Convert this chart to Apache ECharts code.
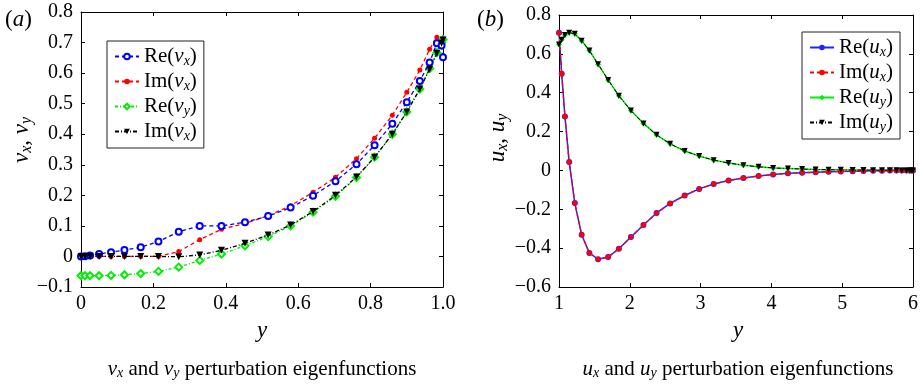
<!DOCTYPE html>
<html><head><meta charset="utf-8">
<script src="https://cdn.jsdelivr.net/npm/echarts@6/dist/echarts.min.js"></script>
<style>html,body{margin:0;padding:0;background:#fff;font-family:'Liberation Serif',serif}#c{width:921px;height:386px}</style>
</head><body><div id="c"></div>
<script>
// ---- Panel (a) data ----
const xA = [0, 0.011, 0.025, 0.05, 0.083, 0.12, 0.165, 0.214, 0.27, 0.328, 0.388, 0.453, 0.517, 0.579, 0.641, 0.703, 0.761, 0.811, 0.86, 0.9, 0.936, 0.963, 0.983, 0.996, 1.0];
const reVx = [0, 0.001, 0.003, 0.008, 0.014, 0.021, 0.03, 0.049, 0.081, 0.1, 0.1, 0.112, 0.132, 0.16, 0.199, 0.246, 0.302, 0.364, 0.434, 0.505, 0.574, 0.635, 0.698, 0.69, 0.652];
const imVx = [0, 0, 0, 0, 0, 0, 0, 0, 0.016, 0.055, 0.089, 0.108, 0.133, 0.166, 0.21, 0.259, 0.32, 0.387, 0.462, 0.537, 0.61, 0.678, 0.717, 0.7, 0.697];
const reVy = [-0.063, -0.063, -0.063, -0.063, -0.062, -0.06, -0.056, -0.049, -0.035, -0.013, 0.008, 0.035, 0.065, 0.1, 0.145, 0.197, 0.258, 0.325, 0.4, 0.473, 0.548, 0.615, 0.667, 0.7, 0.71];
const imVx2 = [0, 0, 0, 0, 0, 0, 0, 0, -0.001, 0.005, 0.02, 0.043, 0.07, 0.103, 0.147, 0.2, 0.26, 0.325, 0.4, 0.473, 0.548, 0.613, 0.665, 0.698, 0.708];
const xTicksA = ['0', '0.2', '0.4', '0.6', '0.8', '1.0'];
const yTicksA = ['\u22120.1', '0', '0.1', '0.2', '0.3', '0.4', '0.5', '0.6', '0.7', '0.8'];

// ---- Panel (b) data ----
const xB = [1.0, 1.038, 1.084, 1.144, 1.223, 1.32, 1.429, 1.552, 1.694, 1.846, 2.016, 2.193, 2.378, 2.57, 2.775, 2.98, 3.185, 3.395, 3.605, 3.819, 4.024, 4.234, 4.434, 4.625, 4.807, 4.98, 5.147, 5.3, 5.436, 5.562, 5.674, 5.767, 5.842, 5.907, 5.953, 5.981, 6.0];
const reUx = [0.708, 0.497, 0.278, 0.043, -0.168, -0.331, -0.425, -0.457, -0.446, -0.403, -0.343, -0.281, -0.219, -0.17, -0.129, -0.095, -0.07, -0.052, -0.039, -0.029, -0.021, -0.015, -0.012, -0.009, -0.007, -0.005, -0.004, -0.003, -0.002, -0.002, -0.001, -0.001, -0.001, 0, 0, 0, 0];
const imUx = [0.708, 0.497, 0.278, 0.043, -0.168, -0.331, -0.425, -0.457, -0.446, -0.403, -0.343, -0.281, -0.219, -0.17, -0.129, -0.095, -0.07, -0.052, -0.039, -0.029, -0.021, -0.015, -0.012, -0.009, -0.007, -0.005, -0.004, -0.003, -0.002, -0.002, -0.001, -0.001, -0.001, 0, 0, 0, 0];
const reUy = [0.648, 0.673, 0.697, 0.709, 0.703, 0.668, 0.617, 0.547, 0.466, 0.384, 0.308, 0.242, 0.183, 0.137, 0.1, 0.074, 0.053, 0.038, 0.027, 0.019, 0.013, 0.01, 0.007, 0.005, 0.004, 0.003, 0.002, 0.002, 0.001, 0.001, 0.001, 0.001, 0, 0, 0, 0, 0];
const imUy = [0.648, 0.673, 0.697, 0.709, 0.703, 0.668, 0.617, 0.547, 0.466, 0.384, 0.308, 0.242, 0.183, 0.137, 0.1, 0.074, 0.053, 0.038, 0.027, 0.019, 0.013, 0.01, 0.007, 0.005, 0.004, 0.003, 0.002, 0.002, 0.001, 0.001, 0.001, 0.001, 0, 0, 0, 0, 0];
const xTicksB = ['1', '2', '3', '4', '5', '6'];
const yTicksB = ['\u22120.6', '\u22120.4', '\u22120.2', '0', '0.2', '0.4', '0.6', '0.8'];

const FONT = "'Liberation Serif', 'Times New Roman', serif";
function rich(sz) {
  return {
    n: {fontFamily: FONT, fontSize: sz, color: '#000'},
    i: {fontFamily: FONT, fontStyle: 'italic', fontSize: sz, color: '#000'},
    s: {fontFamily: FONT, fontStyle: 'italic', fontSize: Math.round(sz * 0.68), color: '#000', padding: [Math.round(sz * 0.45), 0, 0, 0]}
  };
}
function fmtName(name) {
  const m = name.trim().match(/^(Re|Im)\((\w)(\w)\)$/);
  return '{n|' + m[1] + '(}{i|' + m[2] + '}{s|' + m[3] + '}{n|)}';
}
const pair = (xs, ys) => xs.map((x, k) => [x, ys[k]]);

const tickRich = {t: {fontFamily: FONT, fontSize: 20, fontStyle: 'normal', color: '#000'}};
function mkX(idx, min, max, interval, labels, top) {
  return {
    type: 'value', gridIndex: idx, min, max, interval, position: top ? 'top' : 'bottom',
    axisLine: {show: true, onZero: false, lineStyle: {color: '#000', width: 1}},
    axisTick: {show: true, inside: true, length: 4, lineStyle: {color: '#000'}},
    axisLabel: top ? {show: false} : {margin: 7, fontFamily: FONT, fontSize: 20, color: '#000',
      formatter: (v, i) => '{t|' + labels[i] + '}', rich: tickRich},
    splitLine: {show: false}
  };
}
function mkY(idx, min, max, interval, labels, right) {
  return {
    type: 'value', gridIndex: idx, min, max, interval, position: right ? 'right' : 'left',
    axisLine: {show: true, onZero: false, lineStyle: {color: '#000', width: 1}},
    axisTick: {show: true, inside: true, length: 4, lineStyle: {color: '#000'}},
    axisLabel: right ? {show: false} : {margin: 8, fontFamily: FONT, fontSize: 20, color: '#000',
      formatter: (v, i) => '{t|' + labels[i] + '}', rich: tickRich},
    splitLine: {show: false}
  };
}

const chart = echarts.init(document.getElementById('c'), null, {renderer: 'canvas'});
const legendBase = {
  orient: 'vertical', backgroundColor: '#fff', borderColor: '#222', borderWidth: 1,
  itemWidth: 24, itemHeight: 7, itemGap: 3, padding: [5, 7, 5, 7],
  formatter: fmtName, textStyle: {rich: rich(21)}, selectedMode: false
};
chart.setOption({
  animation: false,
  textStyle: {fontFamily: FONT},
  grid: [
    {left: 81, right: 478, top: 12, bottom: 99},
    {left: 559, right: 4, top: 15, bottom: 99}
  ],
  xAxis: [
    mkX(0, 0, 1, 0.2, xTicksA, false), mkX(0, 0, 1, 0.2, xTicksA, true),
    mkX(1, 1, 6, 1, xTicksB, false), mkX(1, 1, 6, 1, xTicksB, true)
  ],
  yAxis: [
    mkY(0, -0.1, 0.8, 0.1, yTicksA, false), mkY(0, -0.1, 0.8, 0.1, yTicksA, true),
    mkY(1, -0.6, 0.8, 0.2, yTicksB, false), mkY(1, -0.6, 0.8, 0.2, yTicksB, true)
  ],
  legend: [
    Object.assign({left: 107, top: 41, data: ['Re(vx)', 'Im(vx)', 'Re(vy)', 'Im(vx) ']}, legendBase),
    Object.assign({left: 802, top: 32, data: ['Re(ux)', 'Im(ux)', 'Re(uy)', 'Im(uy)']}, legendBase)
  ],
  series: [
    {name: 'Re(vx)', type: 'line', xAxisIndex: 0, yAxisIndex: 0, data: pair(xA, reVx),
      symbol: 'emptyCircle', symbolSize: 6, color: '#0000ff',
      itemStyle: {color: '#0000ff', borderWidth: 1.2},
      lineStyle: {color: '#0000ff', width: 1.3, type: [4, 3]}, z: 3},
    {name: 'Im(vx)', type: 'line', xAxisIndex: 0, yAxisIndex: 0, data: pair(xA, imVx),
      symbol: 'circle', symbolSize: 5, color: '#ff0000',
      itemStyle: {color: '#ff0000'},
      lineStyle: {color: '#ff0000', width: 1.3, type: [4, 3]}, z: 2},
    {name: 'Re(vy)', type: 'line', xAxisIndex: 0, yAxisIndex: 0, data: pair(xA, reVy),
      symbol: 'emptyDiamond', symbolSize: 7, color: '#00ee00',
      itemStyle: {color: '#00ee00', borderWidth: 1.2},
      lineStyle: {color: '#00ee00', width: 1.3, type: [3, 2, 1, 2]}, z: 2},
    {name: 'Im(vx) ', type: 'line', xAxisIndex: 0, yAxisIndex: 0, data: pair(xA, imVx2),
      symbol: 'triangle', symbolRotate: 180, symbolSize: 7, color: '#000',
      itemStyle: {color: '#000'},
      lineStyle: {color: '#000', width: 1.3, type: [4, 2, 1, 2]}, z: 3},

    {name: 'Re(ux)', type: 'line', xAxisIndex: 2, yAxisIndex: 2, data: pair(xB, reUx),
      symbol: 'circle', symbolSize: 6, color: '#2222ff',
      itemStyle: {color: '#2222ff'},
      lineStyle: {color: '#2222ff', width: 1.5}, z: 2},
    {name: 'Im(ux)', type: 'line', xAxisIndex: 2, yAxisIndex: 2, data: pair(xB, imUx),
      symbol: 'circle', symbolSize: 5, color: '#ff0000',
      itemStyle: {color: '#ff0000'},
      lineStyle: {color: '#ff0000', width: 1.3, type: [4, 3]}, z: 3},
    {name: 'Re(uy)', type: 'line', xAxisIndex: 2, yAxisIndex: 2, data: pair(xB, reUy),
      symbol: 'diamond', symbolSize: 6, color: '#00ee00',
      itemStyle: {color: '#00ee00'},
      lineStyle: {color: '#00ee00', width: 1.5}, z: 2},
    {name: 'Im(uy)', type: 'line', xAxisIndex: 2, yAxisIndex: 2, data: pair(xB, imUy),
      symbol: 'triangle', symbolRotate: 180, symbolSize: 6, color: '#000',
      itemStyle: {color: '#000'},
      lineStyle: {color: '#000', width: 1, type: [4, 2, 1, 2]}, z: 3}
  ],
  graphic: [
    {type: 'text', left: 5, top: 8, style: {text: '{n|(}{i|a}{n|)}', rich: rich(23)}},
    {type: 'text', left: 477, top: 8, style: {text: '{n|(}{i|b}{n|)}', rich: rich(23)}},
    {type: 'text', x: 22, y: 140, rotation: Math.PI / 2,
      style: {text: '{i|v}{s|x}{n|, }{i|v}{s|y}', rich: rich(23), align: 'center', verticalAlign: 'middle'}},
    {type: 'text', x: 498, y: 138, rotation: Math.PI / 2,
      style: {text: '{i|u}{s|x}{n|, }{i|u}{s|y}', rich: rich(23), align: 'center', verticalAlign: 'middle'}},
    {type: 'text', x: 262, y: 331, style: {text: '{i|y}', rich: rich(23), align: 'center', verticalAlign: 'middle'}},
    {type: 'text', x: 738, y: 331, style: {text: '{i|y}', rich: rich(23), align: 'center', verticalAlign: 'middle'}},
    {type: 'text', x: 262, y: 369, style: {text: '{i|v}{s|x}{n| and }{i|v}{s|y}{n| perturbation eigenfunctions}', rich: rich(21), align: 'center', verticalAlign: 'middle'}},
    {type: 'text', x: 738, y: 369, style: {text: '{i|u}{s|x}{n| and }{i|u}{s|y}{n| perturbation eigenfunctions}', rich: rich(21), align: 'center', verticalAlign: 'middle'}}
  ]
});
</script>
</body></html>
